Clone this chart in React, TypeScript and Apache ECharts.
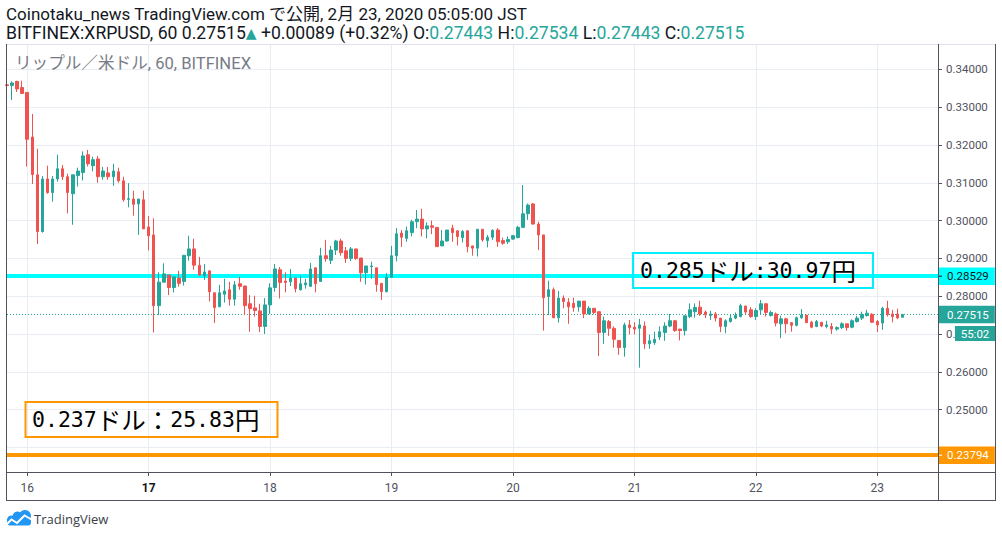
import React, { useEffect, useRef } from 'react';
import * as echarts from 'echarts';

// Hourly candles, first one = 2/15 20:00 JST, last one = 2/23 05:00 JST
const opens = [
  0.3359, 0.3357, 0.3368, 0.3352, 0.3339, 0.3221, 0.3121, 0.2971, 0.3110, 0.3074,
  0.3110, 0.3137, 0.3116, 0.3071, 0.3119, 0.3127, 0.3174, 0.3145, 0.3163, 0.3116,
  0.3126, 0.3116, 0.3129, 0.3105, 0.3056, 0.3057, 0.3044, 0.3055, 0.2983, 0.2962,
  0.2775, 0.2837, 0.2856, 0.2823, 0.2848, 0.2839, 0.2907, 0.2925, 0.2882, 0.2854,
  0.2867, 0.2809, 0.2772, 0.2805, 0.2817, 0.2792, 0.2833, 0.2827, 0.2780, 0.2769,
  0.2761, 0.2720, 0.2777, 0.2823, 0.2870, 0.2840, 0.2838, 0.2848, 0.2817, 0.2830,
  0.2826, 0.2875, 0.2839, 0.2907, 0.2895, 0.2922, 0.2946, 0.2920, 0.2900, 0.2925,
  0.2901, 0.2862, 0.2878, 0.2875, 0.2834, 0.2812, 0.2850, 0.2907, 0.2967, 0.2953,
  0.2968, 0.2997, 0.3004, 0.2978, 0.2986, 0.2982, 0.2933, 0.2946, 0.2980, 0.2973,
  0.2955, 0.2973, 0.2933, 0.2927, 0.2977, 0.2947, 0.2956, 0.2975, 0.2947, 0.2944,
  0.2951, 0.2955, 0.2982, 0.3018, 0.3044, 0.2991, 0.2962, 0.2799, 0.2817, 0.2743,
  0.2795, 0.2784, 0.2781, 0.2772, 0.2787, 0.2753, 0.2768, 0.2759, 0.2704, 0.2733,
  0.2715, 0.2683, 0.2664, 0.2724, 0.2718, 0.2715, 0.2721, 0.2674, 0.2677, 0.2692,
  0.2704, 0.2721, 0.2735, 0.2713, 0.2709, 0.2746, 0.2759, 0.2771, 0.2758, 0.2749,
  0.2753, 0.2742, 0.2720, 0.2733, 0.2742, 0.2746, 0.2774, 0.2764, 0.2746, 0.2764,
  0.2780, 0.2749, 0.2753, 0.2727, 0.2740, 0.2730, 0.2723, 0.2743, 0.2750, 0.2731,
  0.2720, 0.2731, 0.2720, 0.2720, 0.2713, 0.2717, 0.2727, 0.2718, 0.2733, 0.2742,
  0.2749, 0.2752, 0.2733, 0.2729, 0.2768, 0.2753, 0.2753, 0.27443,
];
const closes = [
  0.3357, 0.3364, 0.3348, 0.3336, 0.3215, 0.3122, 0.2971, 0.3110, 0.3074, 0.3110,
  0.3137, 0.3116, 0.3074, 0.3121, 0.3131, 0.3171, 0.3150, 0.3161, 0.3116, 0.3131,
  0.3116, 0.3131, 0.3105, 0.3055, 0.3058, 0.3043, 0.3057, 0.2978, 0.2960, 0.2775,
  0.2837, 0.2859, 0.2823, 0.2851, 0.2834, 0.2908, 0.2925, 0.2882, 0.2856, 0.2864,
  0.2812, 0.2770, 0.2809, 0.2814, 0.2792, 0.2830, 0.2826, 0.2775, 0.2767, 0.2762,
  0.2720, 0.2777, 0.2822, 0.2872, 0.2836, 0.2836, 0.2848, 0.2820, 0.2833, 0.2835,
  0.2872, 0.2833, 0.2907, 0.2899, 0.2922, 0.2946, 0.2915, 0.2900, 0.2925, 0.2900,
  0.2862, 0.2880, 0.2880, 0.2831, 0.2812, 0.2850, 0.2907, 0.2965, 0.2956, 0.2973,
  0.2997, 0.3004, 0.2978, 0.2986, 0.2982, 0.2931, 0.2946, 0.2975, 0.2968, 0.2958,
  0.2971, 0.2931, 0.2927, 0.2977, 0.2949, 0.2956, 0.2974, 0.2944, 0.2940, 0.2950,
  0.2960, 0.2982, 0.3018, 0.3041, 0.2991, 0.2962, 0.2796, 0.2817, 0.2743, 0.2795,
  0.2786, 0.2772, 0.2770, 0.2787, 0.2753, 0.2768, 0.2757, 0.2704, 0.2735, 0.2715,
  0.2686, 0.2664, 0.2724, 0.2717, 0.2713, 0.2724, 0.2674, 0.2682, 0.2686, 0.2706,
  0.2721, 0.2735, 0.2709, 0.2709, 0.2748, 0.2764, 0.2770, 0.2753, 0.2751, 0.2753,
  0.2742, 0.2720, 0.2735, 0.2742, 0.2749, 0.2775, 0.2758, 0.2746, 0.2762, 0.2780,
  0.2757, 0.2757, 0.2729, 0.2740, 0.2727, 0.2723, 0.2743, 0.2750, 0.2730, 0.2718,
  0.2733, 0.2721, 0.2724, 0.2713, 0.2717, 0.2727, 0.2717, 0.2735, 0.2742, 0.2752,
  0.2755, 0.2731, 0.2724, 0.2768, 0.2751, 0.2746, 0.27426, 0.27515,
];
const lows = [
  0.3355, 0.3319, 0.3340, 0.3336, 0.3143, 0.3097, 0.2938, 0.2968, 0.3071, 0.3050,
  0.3103, 0.3107, 0.3019, 0.2989, 0.3090, 0.3106, 0.3143, 0.3130, 0.3100, 0.3108,
  0.3108, 0.3092, 0.3100, 0.3050, 0.3035, 0.3013, 0.2962, 0.2978, 0.2921, 0.2704,
  0.2750, 0.2837, 0.2803, 0.2810, 0.2825, 0.2828, 0.2894, 0.2870, 0.2854, 0.2843,
  0.2786, 0.2729, 0.2772, 0.2783, 0.2775, 0.2775, 0.2817, 0.2750, 0.2706, 0.2746,
  0.2705, 0.2700, 0.2753, 0.2812, 0.2794, 0.2810, 0.2827, 0.2810, 0.2815, 0.2820,
  0.2826, 0.2810, 0.2839, 0.2891, 0.2885, 0.2909, 0.2907, 0.2888, 0.2893, 0.2896,
  0.2838, 0.2831, 0.2846, 0.2812, 0.2790, 0.2810, 0.2850, 0.2892, 0.2930, 0.2944,
  0.2958, 0.2980, 0.2958, 0.2953, 0.2964, 0.2931, 0.2933, 0.2944, 0.2944, 0.2934,
  0.2942, 0.2916, 0.2907, 0.2905, 0.2944, 0.2929, 0.2949, 0.2931, 0.2936, 0.2938,
  0.2949, 0.2953, 0.2980, 0.3002, 0.2989, 0.2922, 0.2709, 0.2750, 0.2742, 0.2730,
  0.2768, 0.2727, 0.2759, 0.2759, 0.2742, 0.2752, 0.2752, 0.2642, 0.2674, 0.2695,
  0.2664, 0.2645, 0.2640, 0.2699, 0.2699, 0.2611, 0.2660, 0.2661, 0.2671, 0.2684,
  0.2682, 0.2718, 0.2706, 0.2683, 0.2696, 0.2742, 0.2743, 0.2748, 0.2742, 0.2737,
  0.2733, 0.2705, 0.2702, 0.2730, 0.2739, 0.2744, 0.2753, 0.2743, 0.2737, 0.2751,
  0.2746, 0.2746, 0.2720, 0.2689, 0.2702, 0.2706, 0.2720, 0.2740, 0.2729, 0.2715,
  0.2718, 0.2718, 0.2715, 0.2700, 0.2709, 0.2713, 0.2709, 0.2715, 0.2730, 0.2737,
  0.2746, 0.2729, 0.2705, 0.2711, 0.2746, 0.2731, 0.2739, 0.27443,
];
const highs = [
  0.3361, 0.3368, 0.3370, 0.3370, 0.3339, 0.3282, 0.3190, 0.3118, 0.3145, 0.3118,
  0.3174, 0.3147, 0.3124, 0.3121, 0.3140, 0.3183, 0.3187, 0.3169, 0.3171, 0.3142,
  0.3142, 0.3150, 0.3140, 0.3116, 0.3099, 0.3079, 0.3057, 0.3079, 0.3012, 0.3006,
  0.2863, 0.2887, 0.2856, 0.2851, 0.2867, 0.2908, 0.2960, 0.2952, 0.2904, 0.2885,
  0.2867, 0.2809, 0.2830, 0.2846, 0.2838, 0.2840, 0.2851, 0.2827, 0.2803, 0.2801,
  0.2780, 0.2795, 0.2834, 0.2885, 0.2877, 0.2863, 0.2872, 0.2848, 0.2854, 0.2846,
  0.2888, 0.2875, 0.2928, 0.2949, 0.2933, 0.2949, 0.2952, 0.2930, 0.2930, 0.2925,
  0.2901, 0.2880, 0.2891, 0.2875, 0.2834, 0.2861, 0.2933, 0.2980, 0.2975, 0.2984,
  0.3002, 0.3028, 0.3031, 0.2995, 0.3000, 0.2982, 0.2975, 0.2975, 0.2989, 0.2973,
  0.2975, 0.2973, 0.2933, 0.2977, 0.2977, 0.2962, 0.2977, 0.2980, 0.2955, 0.2958,
  0.2962, 0.2986, 0.3094, 0.3045, 0.3046, 0.2997, 0.2962, 0.2841, 0.2823, 0.2814,
  0.2802, 0.2795, 0.2796, 0.2787, 0.2787, 0.2774, 0.2768, 0.2759, 0.2746, 0.2737,
  0.2720, 0.2683, 0.2730, 0.2737, 0.2731, 0.2740, 0.2733, 0.2698, 0.2706, 0.2720,
  0.2731, 0.2753, 0.2737, 0.2713, 0.2750, 0.2781, 0.2781, 0.2788, 0.2762, 0.2761,
  0.2758, 0.2742, 0.2739, 0.2753, 0.2757, 0.2780, 0.2774, 0.2771, 0.2768, 0.2790,
  0.2780, 0.2762, 0.2757, 0.2748, 0.2743, 0.2730, 0.2746, 0.2766, 0.2750, 0.2735,
  0.2737, 0.2731, 0.2735, 0.2729, 0.2720, 0.2731, 0.2727, 0.2739, 0.2748, 0.2759,
  0.2764, 0.2755, 0.2737, 0.2772, 0.2788, 0.2764, 0.2767, 0.27534,
];

const START_DAY = 15;
const START_HOUR = 20;
const SLOT_COUNT = 185;
const WEEK_START_DAYS = [17];
const categories = Array.from({ length: SLOT_COUNT }, (_, i) => {
  const h = START_HOUR + i;
  const d = START_DAY + Math.floor(h / 24);
  const hh = h % 24;
  return `2/${d} ${String(hh).padStart(2, '0')}:00`;
});

const Y_MIN = 0.2335;
const Y_MAX = 0.3467;
// tick values hidden (fully or partly) behind the price tags on the right scale
const TICK_PARTLY_HIDDEN = 0.27;
const TICK_HIDDEN = 0.24;
const LEVEL_HIGH = 0.28529;
const LEVEL_LOW = 0.23794;
const NOTE_HIGH = '0.285ドル:30.97円';
const NOTE_LOW = '0.237ドル：25.83円';
const TITLE = 'Coinotaku_news TradingView.com で公開, 2月 23, 2020 05:05:00 JST';
const SYMBOL = 'BITFINEX:XRPUSD, 60';
const WATERMARK = 'リップル／米ドル, 60, BITFINEX';
const COUNTDOWN = '55:02';

const UP = '#26a69a';
const DOWN = '#ef5350';
const FRAME = '#50535e';
const GRID = '#e7edf3';
const TXT = '#131722';
const FONT = 'Roboto, "Noto Sans CJK JP", sans-serif';

// split a note into half-width (mono) and Japanese runs for rich text
const noteRich = (s: string) =>
  (s.match(/[\x20-\x7e]+|[^\x20-\x7e]+/g) || [])
    .map((run) => (/^[\x20-\x7e]+$/.test(run) ? `{n|${run}}` : `{j|${run}}`))
    .join('');
const NOTE_STYLE = {
  n: { fill: '#000000', fontSize: 21.5, fontFamily: '"DejaVu Sans Mono", monospace' },
  j: { fill: '#000000', fontSize: 24.5, fontFamily: '"Noto Sans CJK JP", sans-serif' },
};

export default function App() {
  const ref = useRef<HTMLDivElement>(null);
  useEffect(() => {
    if (!ref.current) return;
    const chart = echarts.init(ref.current, null, { renderer: 'svg' });
    const data = opens.map((o, i) => [o, closes[i], lows[i], highs[i]]);
    const n = opens.length;
    const lastO = opens[n - 1], lastC = closes[n - 1], lastL = lows[n - 1], lastH = highs[n - 1];
    const prevC = closes[n - 2];
    const chg = lastC - prevC;
    const pct = (chg / prevC) * 100;
    const f5 = (v: number) => v.toFixed(5);
    const isDay = (_i: number, v: string) => v.endsWith(' 00:00');
    const dayFmt = (v: string) => {
      const d = parseInt(v.split(' ')[0].split('/')[1], 10);
      return WEEK_START_DAYS.includes(d) ? `{b|${d}}` : `${d}`;
    };
    const headerLine2 =
      `{d|${SYMBOL} ${f5(lastC)}}{t|▲}{d| ${chg >= 0 ? '+' : ''}${f5(chg)} (${pct >= 0 ? '+' : ''}${pct.toFixed(2)}%) O:}{g|${f5(lastO)}}` +
      `{d| H:}{g|${f5(lastH)}}{d| L:}{g|${f5(lastL)}}{d| C:}{g|${f5(lastC)}}`;

    const tagLabel = (text: string, bg: string, fg: string, tick: boolean) => ({
      show: true,
      position: 'end',
      distance: 0,
      formatter: () => (tick ? `{k|}{v|${text}}` : `{v|${text}}`),
      backgroundColor: bg,
      padding: tick ? [3, 6, 3, 0] : [3, 6, 3, 9],
      rich: {
        k: { width: 4, height: 1, backgroundColor: fg },
        v: { color: fg, fontSize: 11.5, fontFamily: FONT, padding: tick ? [0, 0, 0, 5] : 0 },
      },
    });

    const yLabel = (v: number) => {
      if (Math.abs(v - TICK_HIDDEN) < 1e-6) return '';
      if (Math.abs(v - TICK_PARTLY_HIDDEN) < 1e-6) return v.toFixed(5).slice(0, 2);
      return v.toFixed(5);
    };

    const option: any = {
      animation: false,
      backgroundColor: '#ffffff',
      textStyle: { fontFamily: FONT },
      grid: { left: 7, right: 64, top: 44, bottom: 65 },
      xAxis: {
        type: 'category',
        data: categories,
        boundaryGap: false,
        axisLine: { show: false },
        axisTick: { show: true, interval: isDay, length: 4, lineStyle: { color: FRAME } },
        axisLabel: {
          interval: isDay,
          formatter: dayFmt,
          color: '#50535e',
          fontSize: 12,
          fontFamily: FONT,
          margin: 10,
          rich: { b: { fontWeight: 'bold', color: TXT, fontSize: 12, fontFamily: FONT } },
        },
        splitLine: { show: true, interval: isDay, lineStyle: { color: GRID, width: 1 } },
      },
      yAxis: {
        type: 'value',
        position: 'right',
        min: Y_MIN,
        max: Y_MAX,
        splitNumber: 11,
        axisLine: { show: false },
        axisTick: { show: true, length: 4, lineStyle: { color: FRAME } },
        axisLabel: {
          formatter: yLabel,
          showMinLabel: false,
          showMaxLabel: false,
          color: '#50535e',
          fontSize: 11.5,
          fontFamily: FONT,
          margin: 8,
        },
        splitLine: { show: true, lineStyle: { color: GRID, width: 1 } },
      },
      series: [
        {
          type: 'candlestick',
          data,
          barWidth: 3,
          clip: false,
          z: 3,
          itemStyle: { color: UP, color0: DOWN, borderColor: UP, borderColor0: DOWN, borderWidth: 1 },
          markLine: {
            z: 1,
            silent: true,
            precision: 5,
            symbol: ['none', 'none'],
            animation: false,
            data: [
              {
                yAxis: LEVEL_HIGH,
                lineStyle: { color: '#00ffff', width: 4, type: 'solid', opacity: 1 },
                label: tagLabel(f5(LEVEL_HIGH), '#00ffff', TXT, true),
              },
              {
                yAxis: LEVEL_LOW,
                lineStyle: { color: '#ff9800', width: 4, type: 'solid', opacity: 1 },
                label: tagLabel(f5(LEVEL_LOW), '#ff9800', '#ffffff', true),
              },
              {
                yAxis: lastC,
                lineStyle: { color: UP, width: 1, type: [1, 2], opacity: 1 },
                label: tagLabel(f5(lastC), UP, '#ffffff', false),
              },
            ],
          },
        },
      ],
      graphic: [
        // header
        {
          type: 'text', x: 6, y: 14, z: 10,
          style: { text: TITLE, fill: TXT, font: `17px ${FONT}`, verticalAlign: 'middle', align: 'left' },
        },
        {
          type: 'text', x: 6, y: 33, z: 10,
          style: {
            text: headerLine2,
            verticalAlign: 'middle',
            align: 'left',
            rich: {
              d: { fill: TXT, fontSize: 17.6, fontFamily: FONT },
              g: { fill: UP, fontSize: 17.6, fontFamily: FONT },
              t: { fill: UP, fontSize: 14, fontFamily: 'DejaVu Sans, sans-serif' },
            },
          },
        },
        {
          type: 'text', x: 15, y: 63, z: 10,
          style: { text: WATERMARK, fill: '#787b86', font: `16.6px ${FONT}`, verticalAlign: 'middle', align: 'left' },
        },
        // frame
        { type: 'line', z: 10, shape: { x1: 6, y1: 44.5, x2: 995, y2: 44.5 }, style: { stroke: '#e0e3eb', lineWidth: 1 } },
        { type: 'line', z: 10, shape: { x1: 6.5, y1: 44, x2: 6.5, y2: 501 }, style: { stroke: FRAME, lineWidth: 1 } },
        { type: 'line', z: 10, shape: { x1: 938.5, y1: 44, x2: 938.5, y2: 501 }, style: { stroke: FRAME, lineWidth: 1 } },
        { type: 'line', z: 10, shape: { x1: 995.5, y1: 44, x2: 995.5, y2: 501 }, style: { stroke: FRAME, lineWidth: 1 } },
        { type: 'line', z: 10, shape: { x1: 6, y1: 472.5, x2: 996, y2: 472.5 }, style: { stroke: FRAME, lineWidth: 1 } },
        { type: 'line', z: 10, shape: { x1: 6, y1: 500.5, x2: 996, y2: 500.5 }, style: { stroke: FRAME, lineWidth: 1 } },
        // countdown tag
        { type: 'rect', z: 10, shape: { x: 955, y: 326, width: 40, height: 15 }, style: { fill: UP } },
        {
          type: 'text', x: 975, y: 333.5, z: 11,
          style: { text: COUNTDOWN, fill: '#ffffff', font: `11.5px ${FONT}`, verticalAlign: 'middle', align: 'center' },
        },
        // annotation boxes
        {
          type: 'rect', z: 10, shape: { x: 633, y: 253, width: 240, height: 35 },
          style: { fill: 'rgba(0,0,0,0)', stroke: '#00f0ff', lineWidth: 2 },
        },
        {
          type: 'text', x: 640, y: 270, z: 10,
          style: { text: noteRich(NOTE_HIGH), rich: NOTE_STYLE, verticalAlign: 'middle', align: 'left' },
        },
        {
          type: 'rect', z: 10, shape: { x: 25.5, y: 402, width: 252, height: 35 },
          style: { fill: 'rgba(0,0,0,0)', stroke: '#ff9800', lineWidth: 2 },
        },
        {
          type: 'text', x: 32, y: 419, z: 10,
          style: { text: noteRich(NOTE_LOW), rich: NOTE_STYLE, verticalAlign: 'middle', align: 'left' },
        },
        // TradingView logo
        {
          type: 'group', z: 10,
          children: [
            { type: 'rect', shape: { x: 7, y: 518, width: 24, height: 7.5, r: 3 }, style: { fill: '#2196f3' } },
            { type: 'circle', shape: { cx: 11.5, cy: 520, r: 4.5 }, style: { fill: '#2196f3' } },
            { type: 'circle', shape: { cx: 17.5, cy: 516.5, r: 5 }, style: { fill: '#2196f3' } },
            { type: 'circle', shape: { cx: 25, cy: 516, r: 6 }, style: { fill: '#2196f3' } },
            {
              type: 'polyline',
              shape: { points: [[6, 525], [11.5, 519.5], [17, 523], [24.5, 515.5], [31.5, 519.5]] },
              style: { stroke: '#ffffff', lineWidth: 2, fill: 'none' },
            },
          ],
        },
        {
          type: 'text', x: 34, y: 519, z: 10,
          style: { text: 'TradingView', fill: '#3a3e4a', font: '13px "Open Sans", sans-serif', verticalAlign: 'middle', align: 'left' },
        },
      ],
    };
    chart.setOption(option);
    return () => chart.dispose();
  }, []);
  return (
    <div
      ref={ref}
      style={{ position: 'fixed', left: 0, top: 0, width: 1002, height: 537, background: '#fff' }}
    />
  );
}
